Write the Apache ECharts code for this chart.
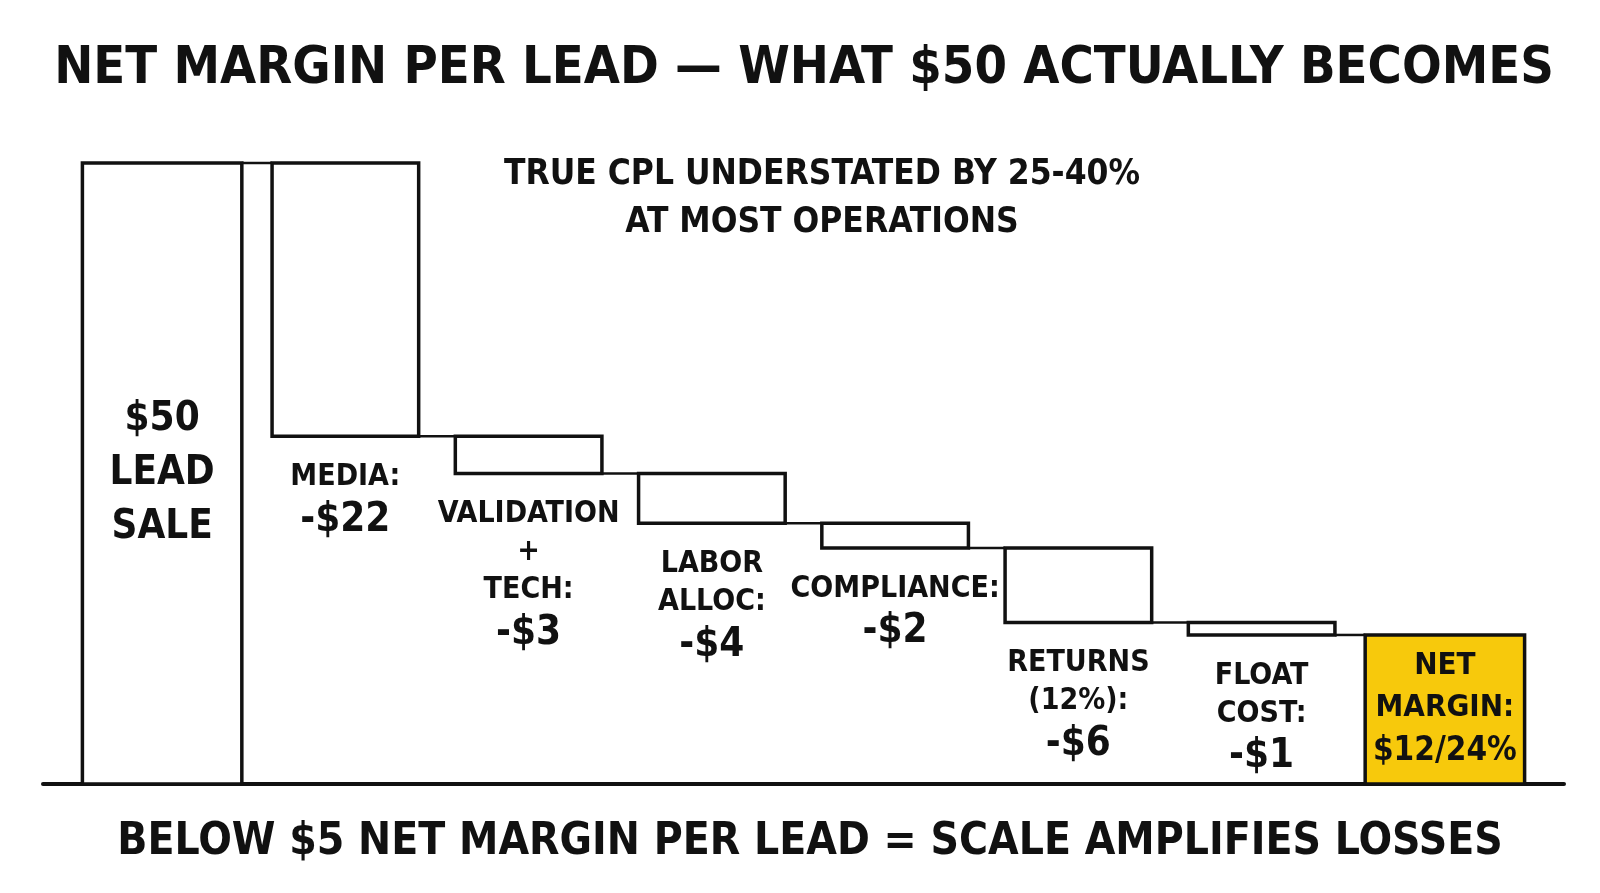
<!DOCTYPE html>
<html>
<head>
<meta charset="utf-8">
<script src="https://cdn.jsdelivr.net/npm/echarts@6/dist/echarts.min.js"></script>
<style>html,body{margin:0;background:#fff}#main{width:1600px;height:893px}</style>
</head>
<body>
<div id="main"></div>
<script>
// waterfall steps
var steps = ['$50 LEAD SALE', 'MEDIA', 'VALIDATION + TECH', 'LABOR ALLOC', 'COMPLIANCE', 'RETURNS (12%)', 'FLOAT COST', 'NET MARGIN'];
var stepLabels = ['$50\nLEAD\nSALE', 'MEDIA:', 'VALIDATION\n+\nTECH:', 'LABOR\nALLOC:', 'COMPLIANCE:', 'RETURNS\n(12%):', 'FLOAT\nCOST:', 'NET\nMARGIN:'];
var valueLabels = ['', '-$22', '-$3', '-$4', '-$2', '-$6', '-$1', '$12/24%'];
var leadValue = 50;
var costs = [22, 3, 4, 2, 6, 1];
var netMargin = 12;

var FONT = '"DejaVu Sans Condensed", "DejaVu Sans", sans-serif';

// [index, low, high, kind, connectorLevel]  kind: 0 total, 1 cost, 2 net
var rows = [[0, 0, leadValue, 0, leadValue]];
var level = leadValue;
costs.forEach(function (c, k) {
  rows.push([k + 1, level - c, level, 1, level - c]);
  level -= c;
});
rows.push([steps.length - 1, 0, netMargin, 2, -1]);

function renderStep(params, api) {
  var i = api.value(0), lo = api.value(1), hi = api.value(2), kind = api.value(3), lvl = api.value(4);
  var band = api.size([1, 0])[0];
  var w = band * (kind === 1 ? 0.8 : 0.87);
  var top = api.coord([i, hi]);
  var bot = api.coord([i, lo]);
  var x = top[0] - w / 2;
  var kids = [{
    type: 'rect',
    shape: { x: x, y: top[1], width: w, height: bot[1] - top[1] },
    style: { fill: kind === 2 ? '#F7C90C' : '#fff', stroke: '#111', lineWidth: 3.5 }
  }];
  if (i < steps.length - 1) {
    var a = api.coord([i, lvl]);
    var b = api.coord([i + 1, lvl]);
    var wNext = band * (i + 1 === steps.length - 1 ? 0.87 : 0.8);
    kids.push({
      type: 'line',
      shape: { x1: a[0] + w / 2, y1: a[1], x2: b[0] - wNext / 2, y2: b[1] },
      style: { stroke: '#111', lineWidth: 2.5 }
    });
  }
  var txt, ty, va;
  if (kind === 0) {
    txt = '{big|' + stepLabels[i].split('\n').join('}\n{big|') + '}';
    ty = (top[1] + bot[1]) / 2; va = 'middle';
  } else if (kind === 2) {
    txt = '{n|' + stepLabels[i].split('\n').join('}\n{n|') + '}\n{nv|' + valueLabels[i] + '}';
    ty = (top[1] + bot[1]) / 2; va = 'middle';
  } else {
    txt = '{t|' + stepLabels[i].split('\n').join('}\n{t|') + '}\n{v|' + valueLabels[i] + '}';
    ty = bot[1] + 22; va = 'top';
  }
  kids.push({
    type: 'text',
    style: {
      x: top[0], y: ty, text: txt, align: 'center', verticalAlign: va,
      fill: '#111', fontFamily: FONT, fontWeight: 'bold',
      rich: {
        big: { fontSize: 40, lineHeight: 54, fontFamily: FONT, fontWeight: 'bold', fill: '#111' },
        t: { fontSize: 30, lineHeight: 38, fontFamily: FONT, fontWeight: 'bold', fill: '#111' },
        n: { fontSize: 31, lineHeight: 42, fontFamily: FONT, fontWeight: 'bold', fill: '#111' },
        v: { fontSize: 40, lineHeight: 48, fontFamily: FONT, fontWeight: 'bold', fill: '#111' },
        nv: { fontSize: 33, lineHeight: 46, fontFamily: FONT, fontWeight: 'bold', fill: '#111' }
      }
    }
  });
  return { type: 'group', children: kids };
}

var chart = echarts.init(document.getElementById('main'), null, { renderer: 'canvas' });
chart.setOption({
  backgroundColor: '#fff',
  animation: false,
  title: [{
    text: 'NET MARGIN PER LEAD — WHAT $50 ACTUALLY BECOMES',
    left: 799, top: 38, textAlign: 'center',
    textStyle: { fontFamily: FONT, fontSize: 52, fontWeight: 'bold', color: '#111' }
  }, {
    text: 'TRUE CPL UNDERSTATED BY 25-40%\nAT MOST OPERATIONS',
    left: 817, top: 146, textAlign: 'center',
    textStyle: { fontFamily: FONT, fontSize: 35, lineHeight: 48, fontWeight: 'bold', color: '#111' }
  }, {
    text: 'BELOW $5 NET MARGIN PER LEAD = SCALE AMPLIFIES LOSSES',
    left: 805, top: 816, textAlign: 'center',
    textStyle: { fontFamily: FONT, fontSize: 44, fontWeight: 'bold', color: '#111' }
  }],
  grid: { left: 43, right: 36, top: 163, bottom: 109 },
  xAxis: {
    type: 'value', min: -0.65, max: steps.length - 1 + 0.65,
    axisLine: { show: true, onZero: true, lineStyle: { color: '#111', width: 4 } },
    axisTick: { show: false }, axisLabel: { show: false }, splitLine: { show: false }
  },
  yAxis: {
    type: 'value', min: 0, max: leadValue, show: false, splitLine: { show: false }
  },
  series: [{
    type: 'custom',
    renderItem: renderStep,
    encode: { x: 0, y: [1, 2] },
    data: rows,
    z: 3
  }]
});
</script>
</body>
</html>
